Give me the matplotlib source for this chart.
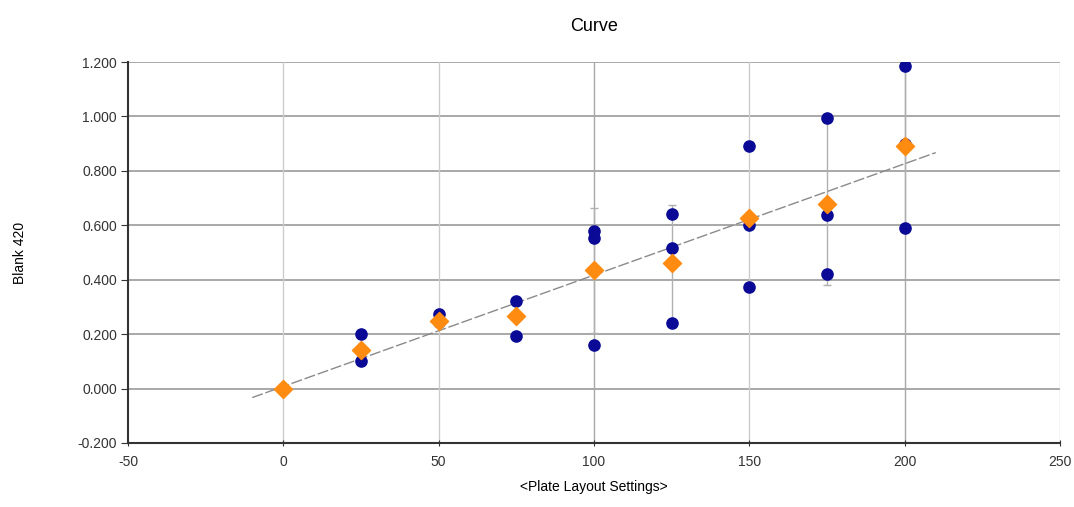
import numpy as np
import matplotlib
matplotlib.use('Agg')
import matplotlib.pyplot as plt

plt.rcParams['font.family'] = ['Liberation Sans', 'DejaVu Sans']
plt.rcParams['axes.unicode_minus'] = False

# replicate readings (blue) per concentration
rep_x = [25, 25, 50, 50, 75, 75, 100, 100, 100, 125, 125, 125,
         150, 150, 150, 175, 175, 175, 200, 200, 200]
rep_y = [0.200, 0.100, 0.275, 0.245, 0.320, 0.195, 0.580, 0.555, 0.160,
         0.643, 0.515, 0.240, 0.893, 0.600, 0.375, 0.993, 0.636, 0.420,
         1.187, 0.900, 0.590]

# mean values (orange)
mean_x = [0, 25, 50, 75, 100, 125, 150, 175, 200]
mean_y = [0.000, 0.140, 0.250, 0.268, 0.434, 0.463, 0.625, 0.680, 0.893]
mean_err = [0.0, 0.0, 0.0, 0.0, 0.23, 0.21, 0.0, 0.30, 0.30]

fig = plt.figure(figsize=(10.74, 5.07), dpi=100)
ax = fig.add_axes([128 / 1074, 64 / 507, 932 / 1074, 381 / 507])

ax.set_xlim(-50, 250)
ax.set_ylim(-0.2, 1.2)
ax.set_xticks(range(-50, 251, 50))
ax.set_yticks(np.arange(-0.2, 1.21, 0.2))
ax.set_yticklabels([f"{v:.3f}" for v in np.arange(-0.2, 1.21, 0.2)])

for y in np.arange(-0.2, 1.21, 0.2):
    ax.axhline(y, color='#9a9a9a', lw=1.2, zorder=0)
for x in range(0, 251, 50):
    c = '#a8a8a8' if x in (100, 200) else '#cccccc'
    ax.axvline(x, color=c, lw=1.0, zorder=0)

# error bars
ax.errorbar(mean_x, mean_y, yerr=mean_err, fmt='none', ecolor='#b0b0b0',
            elinewidth=1.0, capsize=3, zorder=1)

# trend line
k, b = np.polyfit(mean_x, mean_y, 1)
tx = np.array([-10, 210])
ax.plot(tx, k * tx + b, color='#8a8a8a', lw=1.0, ls=(0, (8, 2)), zorder=2)

ax.scatter(rep_x, rep_y, s=65, color='#0a0a96', zorder=3)
ax.scatter(mean_x, mean_y, s=85, marker='D', color='#ff8c10', zorder=4)

for side in ['top', 'right']:
    ax.spines[side].set_visible(False)
ax.spines['left'].set_color('#333333')
ax.spines['bottom'].set_color('#333333')
ax.spines['left'].set_linewidth(1.5)
ax.spines['bottom'].set_linewidth(1.5)
ax.tick_params(axis='both', labelsize=10, colors='#333333', length=5)
ax.tick_params(axis='x', direction='inout', pad=6)
ax.tick_params(axis='y', direction='out', pad=3)

ax.set_title('Curve', fontsize=13, pad=22)
ax.set_xlabel('<Plate Layout Settings>', fontsize=10, labelpad=8)
ax.set_ylabel('Blank 420', fontsize=10, labelpad=36)

fig.savefig('out.png', dpi=100)
